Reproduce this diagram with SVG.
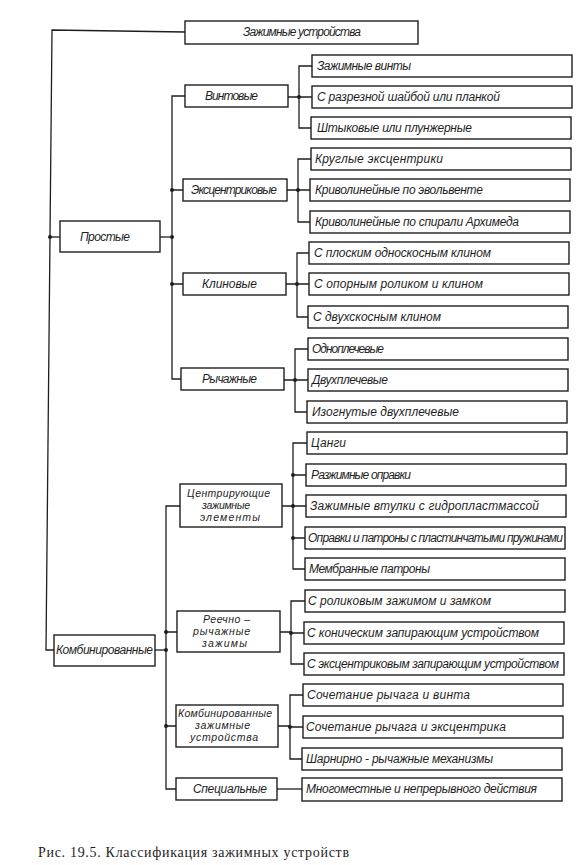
<svg xmlns="http://www.w3.org/2000/svg" width="578" height="865" viewBox="0 0 578 865">
<style>
.b{fill:#fff;stroke:#1e1e1e;stroke-width:1.4}
.t{font-family:"Liberation Sans","DejaVu Sans",sans-serif;font-style:italic;font-size:12px;fill:#1e1e1e}
.m{font-size:10.5px}
.l{fill:none;stroke:#1e1e1e;stroke-width:1.3}
.d{fill:#1e1e1e}
.cap{font-family:"Liberation Serif","DejaVu Serif",serif;font-size:14px;fill:#1e1e1e}
</style>
<rect width="578" height="865" fill="#fff"/>
<g id="connectors">
<path class="l" d="M185,32 L52,30 L46,650 L54,650"/>
<path class="l" d="M50,237 H60"/>
<path class="l" d="M160,237 H172"/>
<path class="l" d="M185,96 H172 V379 H181"/>
<path class="l" d="M172,190 H183 M172,284 H183"/>
<path class="l" d="M155,650 H166"/>
<path class="l" d="M180,506 H166 V789 H176"/>
<path class="l" d="M166,632 H177 M166,726 H176"/>
<path class="l" d="M288,97 H299 M312,66 H299 V128 H311 M299,97 H312"/>
<path class="l" d="M287,190 H298 M311,159 H298 V222 H310 M298,190 H310"/>
<path class="l" d="M286,284 H297 M309,253 H297 V317 H308 M297,284 H309"/>
<path class="l" d="M284,380 H295 M308,349 H295 V412 H307 M295,380 H308"/>
<path class="l" d="M282,506 H293 M307,443 H293 V569 H305 M293,475 H306 M293,506 H306 M293,538 H305"/>
<path class="l" d="M280,632 H291 M305,601 H291 V664 H304 M291,633 H304"/>
<path class="l" d="M278,726 H290 M303,695 H290 V759 H302 M290,727 H303"/>
<path class="l" d="M277,789 H302"/>
<circle class="d" cx="50" cy="237" r="2"/>
<circle class="d" cx="172" cy="190" r="2"/>
<circle class="d" cx="172" cy="237" r="2"/>
<circle class="d" cx="172" cy="284" r="2"/>
<circle class="d" cx="166" cy="632" r="2"/>
<circle class="d" cx="166" cy="650" r="2"/>
<circle class="d" cx="166" cy="726" r="2"/>
<circle class="d" cx="299" cy="97" r="2"/>
<circle class="d" cx="298" cy="190" r="2"/>
<circle class="d" cx="297" cy="284" r="2"/>
<circle class="d" cx="295" cy="380" r="2"/>
<circle class="d" cx="293" cy="475" r="2"/>
<circle class="d" cx="293" cy="506" r="2"/>
<circle class="d" cx="293" cy="538" r="2"/>
<circle class="d" cx="291" cy="633" r="2"/>
<circle class="d" cx="290" cy="727" r="2"/>
</g>
<g id="root"><rect class="b" x="185" y="21" width="233" height="23"/><text class="t" x="243" y="36" textLength="118" lengthAdjust="spacing">Зажимные устройства</text></g>
<g id="prostye"><rect class="b" x="60" y="221" width="100" height="31"/><text class="t" x="80" y="241" textLength="50" lengthAdjust="spacing">Простые</text></g>
<g id="kombinirovannye"><rect class="b" x="54" y="635" width="101" height="31"/><text class="t" x="56" y="654" textLength="97" lengthAdjust="spacing">Комбинированные</text></g>
<g id="vintovye"><rect class="b" x="185" y="85" width="103" height="22"/><text class="t" x="205" y="100" textLength="53" lengthAdjust="spacing">Винтовые</text></g>
<g id="ekscentrikovye"><rect class="b" x="183" y="179" width="104" height="22"/><text class="t" x="191" y="194" textLength="86" lengthAdjust="spacing">Эксцентриковые</text></g>
<g id="klinovye"><rect class="b" x="183" y="273" width="103" height="22"/><text class="t" x="202" y="288" textLength="55" lengthAdjust="spacing">Клиновые</text></g>
<g id="rychazhnye"><rect class="b" x="181" y="368" width="103" height="22"/><text class="t" x="202" y="383" textLength="55" lengthAdjust="spacing">Рычажные</text></g>
<g id="centriruyushchie"><rect class="b" x="180" y="484" width="102" height="43"/><text class="t m" x="187" y="497" textLength="83" lengthAdjust="spacing">Центрирующие</text><text class="t m" x="202" y="509" textLength="48" lengthAdjust="spacing">зажимные</text><text class="t m" x="200" y="521" textLength="60" lengthAdjust="spacing">элементы</text></g>
<g id="reechno"><rect class="b" x="177" y="611" width="103" height="41"/><text class="t m" x="203" y="623" textLength="47" lengthAdjust="spacing">Реечно –</text><text class="t m" x="193" y="635" textLength="57" lengthAdjust="spacing">рычажные</text><text class="t m" x="202" y="647" textLength="45" lengthAdjust="spacing">зажимы</text></g>
<g id="kombzazhim"><rect class="b" x="176" y="705" width="102" height="42"/><text class="t m" x="178" y="717" textLength="94" lengthAdjust="spacing">Комбинированные</text><text class="t m" x="195" y="729" textLength="55" lengthAdjust="spacing">зажимные</text><text class="t m" x="190" y="741" textLength="68" lengthAdjust="spacing">устройства</text></g>
<g id="specialnye"><rect class="b" x="176" y="778" width="101" height="22"/><text class="t" x="193" y="793" textLength="74" lengthAdjust="spacing">Специальные</text></g>
<g id="leaf1"><rect class="b" x="312" y="55" width="260" height="22"/><text class="t" x="317" y="70" textLength="94" lengthAdjust="spacing">Зажимные винты</text></g>
<g id="leaf2"><rect class="b" x="312" y="86" width="260" height="22"/><text class="t" x="317" y="101" textLength="183" lengthAdjust="spacing">С разрезной шайбой или планкой</text></g>
<g id="leaf3"><rect class="b" x="311" y="117" width="260" height="22"/><text class="t" x="317" y="132" textLength="155" lengthAdjust="spacing">Штыковые или плунжерные</text></g>
<g id="leaf4"><rect class="b" x="311" y="148" width="260" height="22"/><text class="t" x="315" y="163" textLength="128" lengthAdjust="spacing">Круглые эксцентрики</text></g>
<g id="leaf5"><rect class="b" x="310" y="179" width="260" height="22"/><text class="t" x="315" y="194" textLength="168" lengthAdjust="spacing">Криволинейные по эвольвенте</text></g>
<g id="leaf6"><rect class="b" x="310" y="211" width="260" height="22"/><text class="t" x="315" y="226" textLength="204" lengthAdjust="spacing">Криволинейные по спирали Архимеда</text></g>
<g id="leaf7"><rect class="b" x="309" y="242" width="260" height="22"/><text class="t" x="314" y="257" textLength="177" lengthAdjust="spacing">С плоским односкосным клином</text></g>
<g id="leaf8"><rect class="b" x="309" y="273" width="260" height="22"/><text class="t" x="314" y="288" textLength="169" lengthAdjust="spacing">С опорным роликом и клином</text></g>
<g id="leaf9"><rect class="b" x="308" y="306" width="260" height="22"/><text class="t" x="313" y="321" textLength="128" lengthAdjust="spacing">С двухскосным клином</text></g>
<g id="leaf10"><rect class="b" x="308" y="338" width="260" height="22"/><text class="t" x="312" y="353" textLength="72" lengthAdjust="spacing">Одноплечевые</text></g>
<g id="leaf11"><rect class="b" x="308" y="369" width="260" height="22"/><text class="t" x="312" y="384" textLength="76" lengthAdjust="spacing">Двухплечевые</text></g>
<g id="leaf12"><rect class="b" x="307" y="401" width="260" height="22"/><text class="t" x="312" y="416" textLength="147" lengthAdjust="spacing">Изогнутые двухплечевые</text></g>
<g id="leaf13"><rect class="b" x="307" y="432" width="260" height="22"/><text class="t" x="311" y="447" textLength="35" lengthAdjust="spacing">Цанги</text></g>
<g id="leaf14"><rect class="b" x="306" y="464" width="260" height="22"/><text class="t" x="311" y="479" textLength="100" lengthAdjust="spacing">Разжимные оправки</text></g>
<g id="leaf15"><rect class="b" x="306" y="495" width="260" height="22"/><text class="t" x="310" y="510" textLength="229" lengthAdjust="spacing">Зажимные втулки с гидропластмассой</text></g>
<g id="leaf16"><rect class="b" x="305" y="527" width="260" height="22"/><text class="t" x="308" y="542" textLength="255" lengthAdjust="spacing">Оправки и патроны с пластинчатыми пружинами</text></g>
<g id="leaf17"><rect class="b" x="305" y="558" width="260" height="22"/><text class="t" x="309" y="573" textLength="121" lengthAdjust="spacing">Мембранные патроны</text></g>
<g id="leaf18"><rect class="b" x="305" y="590" width="260" height="22"/><text class="t" x="308" y="605" textLength="183" lengthAdjust="spacing">С роликовым зажимом и замком</text></g>
<g id="leaf19"><rect class="b" x="304" y="622" width="260" height="22"/><text class="t" x="307" y="637" textLength="232" lengthAdjust="spacing">С коническим запирающим устройством</text></g>
<g id="leaf20"><rect class="b" x="304" y="653" width="260" height="22"/><text class="t" x="307" y="668" textLength="252" lengthAdjust="spacing">С эксцентриковым запирающим устройством</text></g>
<g id="leaf21"><rect class="b" x="303" y="684" width="260" height="22"/><text class="t" x="307" y="699" textLength="163" lengthAdjust="spacing">Сочетание рычага и винта</text></g>
<g id="leaf22"><rect class="b" x="303" y="716" width="260" height="22"/><text class="t" x="306" y="731" textLength="200" lengthAdjust="spacing">Сочетание рычага и эксцентрика</text></g>
<g id="leaf23"><rect class="b" x="302" y="748" width="260" height="22"/><text class="t" x="306" y="763" textLength="187" lengthAdjust="spacing">Шарнирно - рычажные механизмы</text></g>
<g id="leaf24"><rect class="b" x="302" y="778" width="260" height="23"/><text class="t" x="306" y="793" textLength="231" lengthAdjust="spacing">Многоместные и непрерывного действия</text></g>
<text class="cap" x="38" y="857" textLength="311" lengthAdjust="spacing">Рис. 19.5. Классификация зажимных устройств</text>
</svg>
